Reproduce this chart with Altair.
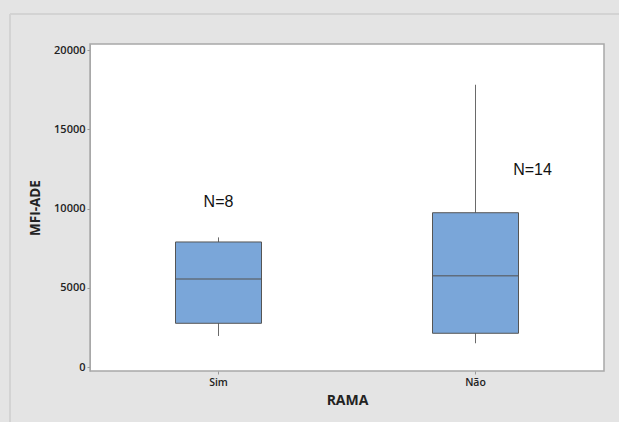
import altair as alt
import pandas as pd

# Box-plot summary per group (MFI-ADE by RAMA)
groups = ["Sim", "Não"]
whisker_low = [1960, 1500]
q1 = [2760, 2130]
median = [5550, 5760]
q3 = [7890, 9735]
whisker_high = [8180, 17810]

# Sample-size labels
n_labels = ["N=8", "N=14"]
n_label_y = [10430, 12430]

y_ticks = [0, 5000, 10000, 15000, 20000]

box_df = pd.DataFrame({
    "RAMA": groups,
    "lo": whisker_low,
    "q1": q1,
    "med": median,
    "q3": q3,
    "hi": whisker_high,
})
lbl_df = pd.DataFrame({"RAMA": groups, "label": n_labels, "y": n_label_y})

FONT = "Open Sans"
BOX_W = 86

x_enc = alt.X(
    "RAMA:N",
    sort=groups,
    scale=alt.Scale(paddingInner=0, paddingOuter=0),
    axis=alt.Axis(
        title="RAMA",
        labelAngle=0,
        labelFont=FONT,
        labelFontSize=10.5,
        labelFontWeight=600,
        labelColor="#222222",
        labelPadding=3,
        titleFont=FONT,
        titleFontSize=14,
        titleFontWeight="bold",
        titleColor="#222222",
        titlePadding=6,
        domain=False,
        tickSize=3,
        tickColor="#9a9a9a",
    ),
)
y_scale = alt.Scale(domain=[-250, 20380], nice=False, zero=False)
y_axis = alt.Axis(
    title="MFI-ADE",
    values=y_ticks,
    format="d",
    grid=False,
    labelFont=FONT,
    labelFontSize=11,
    labelFontWeight=600,
    labelColor="#222222",
    labelPadding=2,
    titleFont=FONT,
    titleFontSize=13.5,
    titleFontWeight="bold",
    titleColor="#222222",
    titlePadding=11,
    domainColor="#a8a8a8",
    tickSize=3,
    tickColor="#9a9a9a",
)

base = alt.Chart(box_df)

whiskers = base.mark_rule(color="#6a6a6a", strokeWidth=1).encode(
    x=x_enc,
    y=alt.Y("lo:Q", scale=y_scale, axis=y_axis),
    y2="hi:Q",
)
boxes = base.mark_bar(
    size=BOX_W, color="#7aa6d9", stroke="#555555", strokeWidth=1
).encode(x=x_enc, y="q1:Q", y2="q3:Q")
medians = base.mark_tick(
    size=BOX_W, thickness=1.5, color="#555555"
).encode(x=x_enc, y="med:Q")

label_sim = (
    alt.Chart(lbl_df)
    .mark_text(font="Liberation Sans", fontSize=16, color="#111111",
               baseline="middle")
    .transform_filter(alt.datum.RAMA == "Sim")
    .encode(x=x_enc, y="y:Q", text="label:N")
)
label_nao = (
    alt.Chart(lbl_df)
    .mark_text(font="Liberation Sans", fontSize=16, color="#111111",
               baseline="middle", dx=57)
    .transform_filter(alt.datum.RAMA == "Não")
    .encode(x=x_enc, y="y:Q", text="label:N")
)

# Light outer frame lines of the figure panel
frame = alt.Chart(lbl_df).mark_rule(color="#d2d2d2", strokeWidth=1.5)
frame_top = frame.encode(x=alt.value(-80), x2=alt.value(600), y=alt.value(-30))
frame_left = frame.encode(x=alt.value(-80), y=alt.value(-30), y2=alt.value(400))

chart = (
    alt.layer(frame_top, frame_left, whiskers, boxes, medians, label_sim, label_nao)
    .properties(
        width=514,
        height=327,
        background="#e4e4e4",
        padding={"left": 90, "top": 44, "right": 15, "bottom": 51},
        autosize=alt.AutoSizeParams(type="none"),
    )
    .configure_view(fill="white", stroke="#a8a8a8", strokeWidth=1.5)
)

chart.save("out.html", embed_options={"renderer": "svg", "actions": False})
